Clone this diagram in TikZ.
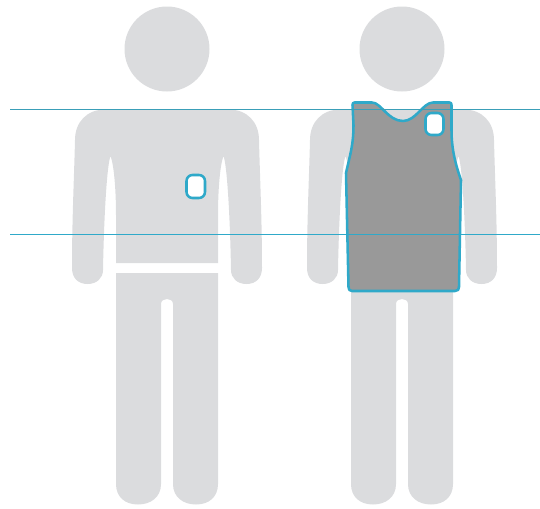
\documentclass[tikz,border=0pt]{standalone}
\definecolor{body}{HTML}{DBDCDE}
\definecolor{vest}{HTML}{999999}
\definecolor{teal}{HTML}{2FA9C9}
\definecolor{tealdark}{HTML}{3A9FB8}
\tikzset{
  bodyfill/.style={fill=body,draw=none},
  outline/.style={draw=teal,line width=1.9pt,line join=round},
  pocket/.style={outline,fill=white},
  guide/.style={draw=teal,line width=0.8pt}
}
\newcommand{\person}[1]{%
  \begin{scope}[xshift=#1*0.75pt]
    \fill[bodyfill] (0,49) circle[radius=42.5];
    % upper body with arms
    \fill[bodyfill] (-51,263) -- (-51,215)
      .. controls (-51,190) and (-53,165) .. (-56.5,156)
      .. controls (-60,165) and (-63,215) .. (-64,270)
      .. controls (-64,278) and (-70,284) .. (-79.5,284)
      .. controls (-89,284) and (-95,278) .. (-95,268)
      .. controls (-95,220) and (-93,180) .. (-92,140)
      .. controls (-92,122) and (-80,109.5) .. (-62,109.5)
      -- (62,109.5)
      .. controls (80,109.5) and (92,122) .. (92,140)
      .. controls (93,180) and (95,220) .. (95,268)
      .. controls (95,278) and (89,284) .. (79.5,284)
      .. controls (70,284) and (64,278) .. (64,270)
      .. controls (63,215) and (60,165) .. (56.5,156)
      .. controls (53,165) and (51,190) .. (51,215)
      -- (51,263) -- cycle;
    % legs
    \fill[bodyfill] (-51,273) -- (51,273) -- (51,484)
      .. controls (51,497) and (42,504.5) .. (29,504.5)
      .. controls (16,504.5) and (6,497) .. (6,484)
      -- (6,304) .. controls (6,300.5) and (3,299) .. (0,299)
      .. controls (-3,299) and (-6,300.5) .. (-6,304)
      -- (-6,484)
      .. controls (-6,497) and (-16,504.5) .. (-29,504.5)
      .. controls (-42,504.5) and (-51,497) .. (-51,484) -- cycle;
  \end{scope}}
\begin{document}
\begin{tikzpicture}[x=0.75pt,y=-0.75pt]
  \useasboundingbox (0,0) rectangle (540,508);
  \person{167}
  \person{402}
  % vest
  \draw[outline,fill=vest] (354.5,102.5) -- (372,102.5)
    .. controls (381,102.5) and (388,121) .. (403,121)
    .. controls (416,121) and (423,102.5) .. (433,102.5)
    -- (449.5,102.5) .. controls (451,102.5) and (451.5,103.5) .. (451.5,105)
    -- (451.5,130)
    .. controls (451.5,148) and (455,163) .. (461,180)
    -- (459,287)
    .. controls (459,289.5) and (458,291) .. (455,291)
    -- (352,291)
    .. controls (349.5,291) and (348.5,289.5) .. (348.5,287)
    -- (346,173)
    .. controls (350,155) and (353.5,145) .. (353.5,125)
    -- (352.5,105) .. controls (352.5,103.5) and (353,102.5) .. (354.5,102.5) -- cycle;
  % pockets
  \draw[pocket,rounded corners=4.5pt] (186.5,175) rectangle (205,198);
  \draw[pocket,rounded corners=4.5pt] (425.5,113) rectangle (443.5,135);
  % guide lines
  \draw[guide,draw=tealdark] (10,109.5) -- (540,109.5);
  \draw[guide] (10,234.5) -- (540,234.5);
\end{tikzpicture}
\end{document}
